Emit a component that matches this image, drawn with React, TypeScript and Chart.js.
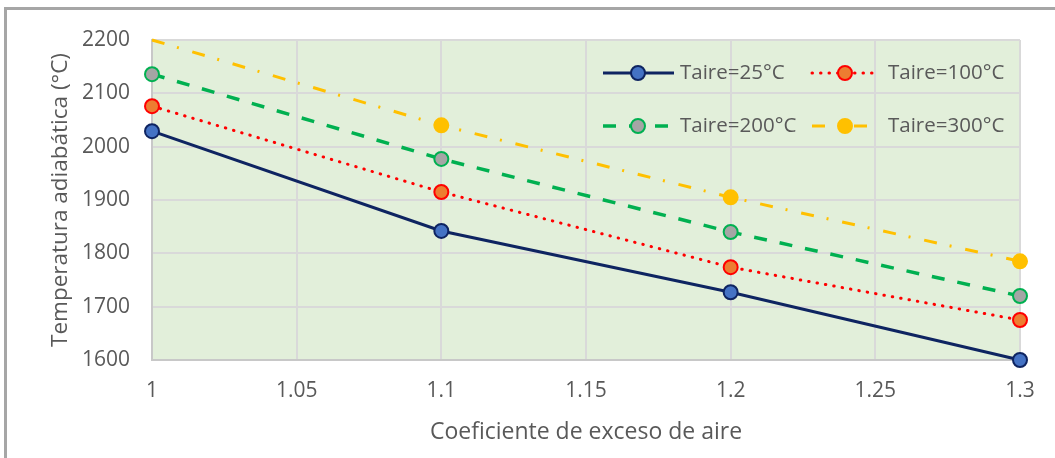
import React, { useEffect, useRef } from "react";
import { Chart, registerables } from "chart.js";
Chart.register(...registerables);

const xValues = [1, 1.1, 1.2, 1.3];
const taire25 = [2029, 1842, 1727, 1600];
const taire100 = [2076, 1915, 1774, 1675];
const taire200 = [2136, 1977, 1840, 1720];
const taire300 = [2200, 2040, 1905, 1785];
const seriesLabels = ["Taire=25°C", "Taire=100°C", "Taire=200°C", "Taire=300°C"];
const xTicks = [1, 1.05, 1.1, 1.15, 1.2, 1.25, 1.3];
const yTicks = [1600, 1700, 1800, 1900, 2000, 2100, 2200];
const xTitle = "Coeficiente de exceso de aire";
const yTitle = "Temperatura adiabática (°C)";

const FONT = "'Open Sans', 'Noto Sans', sans-serif";
const TEXT = "#595959";
const R = 7;

type Style = {
  line: string;
  width: number;
  dash: number[];
  cap: CanvasLineCap;
  fill: string;
  border: string;
};
const styles: Style[] = [
  { line: "#0E2461", width: 3, dash: [], cap: "butt", fill: "#4472C4", border: "#0E2461" },
  { line: "#FF0000", width: 3, dash: [0.5, 8], cap: "round", fill: "#ED7D31", border: "#FF0000" },
  { line: "#00B050", width: 3.5, dash: [13, 13], cap: "butt", fill: "#A5A5A5", border: "#00B050" },
  { line: "#FFC000", width: 3, dash: [13, 13, 2, 14], cap: "butt", fill: "#FFC000", border: "#FFC000" },
];

const pts = (ys: number[]) => ys.map((y, i) => ({ x: xValues[i], y }));

const bgPlugin = {
  id: "plotBg",
  beforeDraw(chart: any) {
    const { ctx, chartArea } = chart;
    ctx.save();
    ctx.fillStyle = "#E2EFDA";
    ctx.fillRect(chartArea.left, chartArea.top, chartArea.right - chartArea.left, chartArea.bottom - chartArea.top);
    ctx.restore();
  },
};

const legendPlugin = {
  id: "customLegend",
  afterDraw(chart: any) {
    const { ctx, chartArea } = chart;
    const r = chartArea.right;
    const t = chartArea.top;
    const items = [
      { row: 0, x0: r - 417, x1: r - 346, mx: r - 382, tx: r - 340 },
      { row: 0, x0: r - 208, x1: r - 144, mx: r - 175, tx: r - 132 },
      { row: 1, x0: r - 417, x1: r - 346, mx: r - 382, tx: r - 340 },
      { row: 1, x0: r - 208, x1: r - 150, mx: r - 175, tx: r - 132 },
    ];
    items.forEach((it, i) => {
      const s = styles[i];
      const y = t + (it.row === 0 ? 33 : 86);
      ctx.save();
      ctx.strokeStyle = s.line;
      ctx.lineWidth = s.width;
      ctx.lineCap = s.cap;
      ctx.setLineDash(s.dash);
      ctx.beginPath();
      ctx.moveTo(it.x0, y);
      ctx.lineTo(it.x1, y);
      ctx.stroke();
      ctx.setLineDash([]);
      ctx.beginPath();
      ctx.arc(it.mx, y, R, 0, Math.PI * 2);
      ctx.fillStyle = s.fill;
      ctx.fill();
      ctx.lineWidth = 2;
      ctx.strokeStyle = s.border;
      ctx.stroke();
      ctx.fillStyle = TEXT;
      ctx.font = `20.5px ${FONT}`;
      ctx.textBaseline = "middle";
      ctx.textAlign = "left";
      ctx.fillText(seriesLabels[i], it.tx, y);
      ctx.restore();
    });
  },
};

export default function App() {
  const ref = useRef<HTMLCanvasElement | null>(null);
  useEffect(() => {
    let chart: Chart | null = null;
    let cancelled = false;
    const make = () => {
      if (cancelled || !ref.current) return;
      const datasets = [taire25, taire100, taire200, taire300].map((vals, i) => {
        const s = styles[i];
        return {
          label: seriesLabels[i],
          data: pts(vals),
          borderColor: s.line,
          borderWidth: s.width,
          borderDash: s.dash,
          borderCapStyle: s.cap,
          pointBackgroundColor: s.fill,
          pointBorderColor: s.border,
          pointBorderWidth: 2,
          pointRadius: i === 3 ? [0, R, R, R] : R,
          tension: 0,
          fill: false,
          clip: false,
        };
      });
      chart = new Chart(ref.current, {
        type: "line",
        data: { datasets: datasets as any },
        plugins: [bgPlugin, legendPlugin],
        options: {
          animation: false,
          responsive: false,
          layout: { padding: { left: 0, right: 35, top: 40, bottom: 0 } },
          plugins: { legend: { display: false }, tooltip: { enabled: false } },
          scales: {
            x: {
              type: "linear",
              min: 1,
              max: 1.3,
              afterBuildTicks: (scale: any) => {
                scale.ticks = xTicks.map((v) => ({ value: v }));
              },
              afterFit: (scale: any) => {
                scale.height = 98;
              },
              ticks: {
                color: TEXT,
                font: { family: FONT, size: 21 },
                padding: 18,
                maxRotation: 0,
                callback: (v: any) => String(parseFloat(Number(v).toFixed(2))),
              },
              grid: { color: "#D9D9D9", lineWidth: 2, drawTicks: false },
              border: { color: "#C8C8C8", width: 2 },
              title: {
                display: true,
                text: xTitle,
                color: TEXT,
                font: { family: FONT, size: 23 },
                padding: { top: 0, bottom: 12 },
              },
            },
            y: {
              type: "linear",
              min: 1600,
              max: 2200,
              afterBuildTicks: (scale: any) => {
                scale.ticks = yTicks.map((v) => ({ value: v }));
              },
              afterFit: (scale: any) => {
                scale.width = 152;
              },
              ticks: {
                color: TEXT,
                font: { family: FONT, size: 21 },
                padding: 22,
                callback: (v: any) => String(v),
              },
              grid: { color: "#D9D9D9", lineWidth: 2, drawTicks: false },
              border: { color: "#C8C8C8", width: 2 },
              title: {
                display: true,
                text: yTitle,
                color: TEXT,
                font: { family: FONT, size: 22.5 },
                padding: { top: 47, bottom: 0 },
              },
            },
          },
        },
      });
    };
    const fonts = (document as any).fonts;
    if (fonts && fonts.load) {
      fonts.load(`20px 'Open Sans'`).then(make, make);
    } else make();
    return () => {
      cancelled = true;
      if (chart) chart.destroy();
    };
  }, []);
  return (
    <div style={{ position: "fixed", left: 0, top: 0, width: 1055, height: 458, background: "#fff" }}>
      <canvas ref={ref} width={1055} height={458} style={{ position: "absolute", left: 0, top: 0, width: 1055, height: 458 }} />
      <div
        style={{
          position: "absolute",
          left: 4,
          top: 7,
          right: 0,
          bottom: 0,
          borderTop: "3px solid #A6A6A6",
          borderLeft: "3px solid #A6A6A6",
          pointerEvents: "none",
        }}
      />
    </div>
  );
}
